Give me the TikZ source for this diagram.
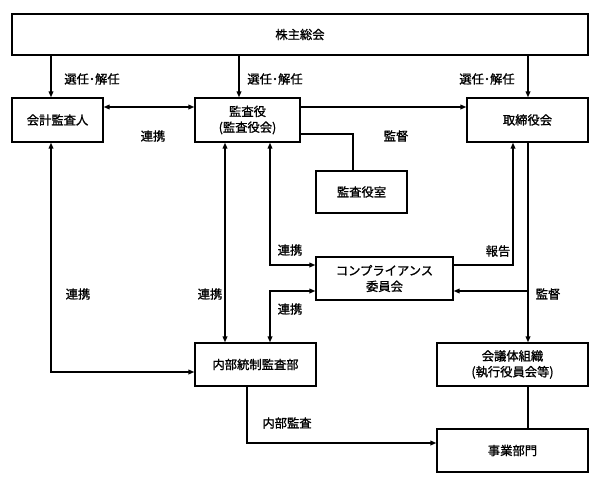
\documentclass[tikz,border=0pt]{standalone}
\usepackage{fontspec}
\setmainfont{Noto Sans CJK JP}[FakeBold=1.2]
\usetikzlibrary{arrows.meta}
\tikzset{
	box/.style={draw, line width=1.2pt, inner sep=0pt, align=center},
	ln/.style={line width=1pt},
	arr/.style={ln, -{Triangle[length=5pt,width=4pt]}},
	darr/.style={ln, {Triangle[length=5pt,width=4pt]}-{Triangle[length=5pt,width=4pt]}},
}
\begin{document}
\begin{tikzpicture}[x=0.03cm, y=-0.03cm, font=\fontsize{10.5}{13.5}\selectfont]
	\useasboundingbox (0,0) rectangle (589,502);

	% boxes
	\node[box, minimum width=17.28cm, minimum height=1.23cm] (soukai) at (300,34.5) {株主総会};
	\node[box, minimum width=2.73cm, minimum height=1.32cm] (kaikei) at (57.5,120) {会計監査人};
	\node[box, minimum width=3.15cm, minimum height=1.32cm] (kansayaku) at (247.5,120) {監査役\\(監査役会)};
	\node[box, minimum width=3.63cm, minimum height=1.32cm] (torishimari) at (527.5,120) {取締役会};
	\node[box, minimum width=2.73cm, minimum height=1.26cm] (shitsu) at (361.5,192) {監査役室};
	\node[box, minimum width=4.11cm, minimum height=1.29cm] (comp) at (384.5,278.5) {コンプライアンス\\委員会};
	\node[box, minimum width=3.63cm, minimum height=1.29cm] (naibu) at (255.5,364.5) {内部統制監査部};
	\node[box, minimum width=4.53cm, minimum height=1.29cm] (kaigi) at (512.5,364.5) {会議体組織\\(執行役員会等)};
	\node[box, minimum width=4.53cm, minimum height=1.29cm] (jigyo) at (512.5,450.5) {事業部門};

	% line positions
	\coordinate (xa) at (51,0);
	\coordinate (xb) at (239,0);
	\coordinate (xc) at (528,0);
	\coordinate (xd) at (225,0);
	\coordinate (xe) at (270,0);
	\coordinate (xf) at (353,0);
	\coordinate (xg) at (513,0);
	\coordinate (xh) at (247,0);
	\coordinate (ya) at (0,107);
	\coordinate (yb) at (0,134);
	\coordinate (yc) at (0,265);
	\coordinate (yd) at (0,291);
	\coordinate (ye) at (0,372);
	\coordinate (yf) at (0,443);

	\draw[arr] (soukai.south -| xa) -- (kaikei.north -| xa);
	\draw[arr] (soukai.south -| xb) -- (kansayaku.north -| xb);
	\draw[arr] (soukai.south -| xc) -- (torishimari.north -| xc);

	\draw[darr] (kaikei.east |- ya) -- (kansayaku.west |- ya);
	\draw[arr] (kansayaku.east |- ya) -- (torishimari.west |- ya);
	\draw[ln] (kansayaku.east |- yb) -- (xf |- yb) -- (shitsu.north -| xf);

	\draw[darr] (kansayaku.south -| xd) -- (naibu.north -| xd);
	\draw[darr] (kansayaku.south -| xe) -- (xe |- yc) -- (comp.west |- yc);
	\draw[darr] (comp.west |- yd) -- (xe |- yd) -- (naibu.north -| xe);
	\draw[darr] (kaikei.south -| xa) -- (xa |- ye) -- (naibu.west |- ye);

	\draw[arr] (comp.east |- yc) -- (xg |- yc) -- (torishimari.south -| xg);
	\draw[arr] (torishimari.south -| xc) -- (kaigi.north -| xc);
	\draw[arr] (xc |- yd) -- (comp.east |- yd);
	\draw[ln] (kaigi.south -| xc) -- (jigyo.north -| xc);
	\draw[arr] (naibu.south -| xh) -- (xh |- yf) -- (jigyo.west |- yf);

	% labels
	\node at (92,79) {選任･解任};
	\node at (275,79) {選任･解任};
	\node at (487,79) {選任･解任};
	\node at (153,136) {連携};
	\node at (396,136) {監督};
	\node at (290,250) {連携};
	\node at (498,251) {報告};
	\node at (78,294) {連携};
	\node at (210,294) {連携};
	\node at (548,294) {監督};
	\node at (290,309) {連携};
	\node at (287,423) {内部監査};
\end{tikzpicture}
\end{document}
